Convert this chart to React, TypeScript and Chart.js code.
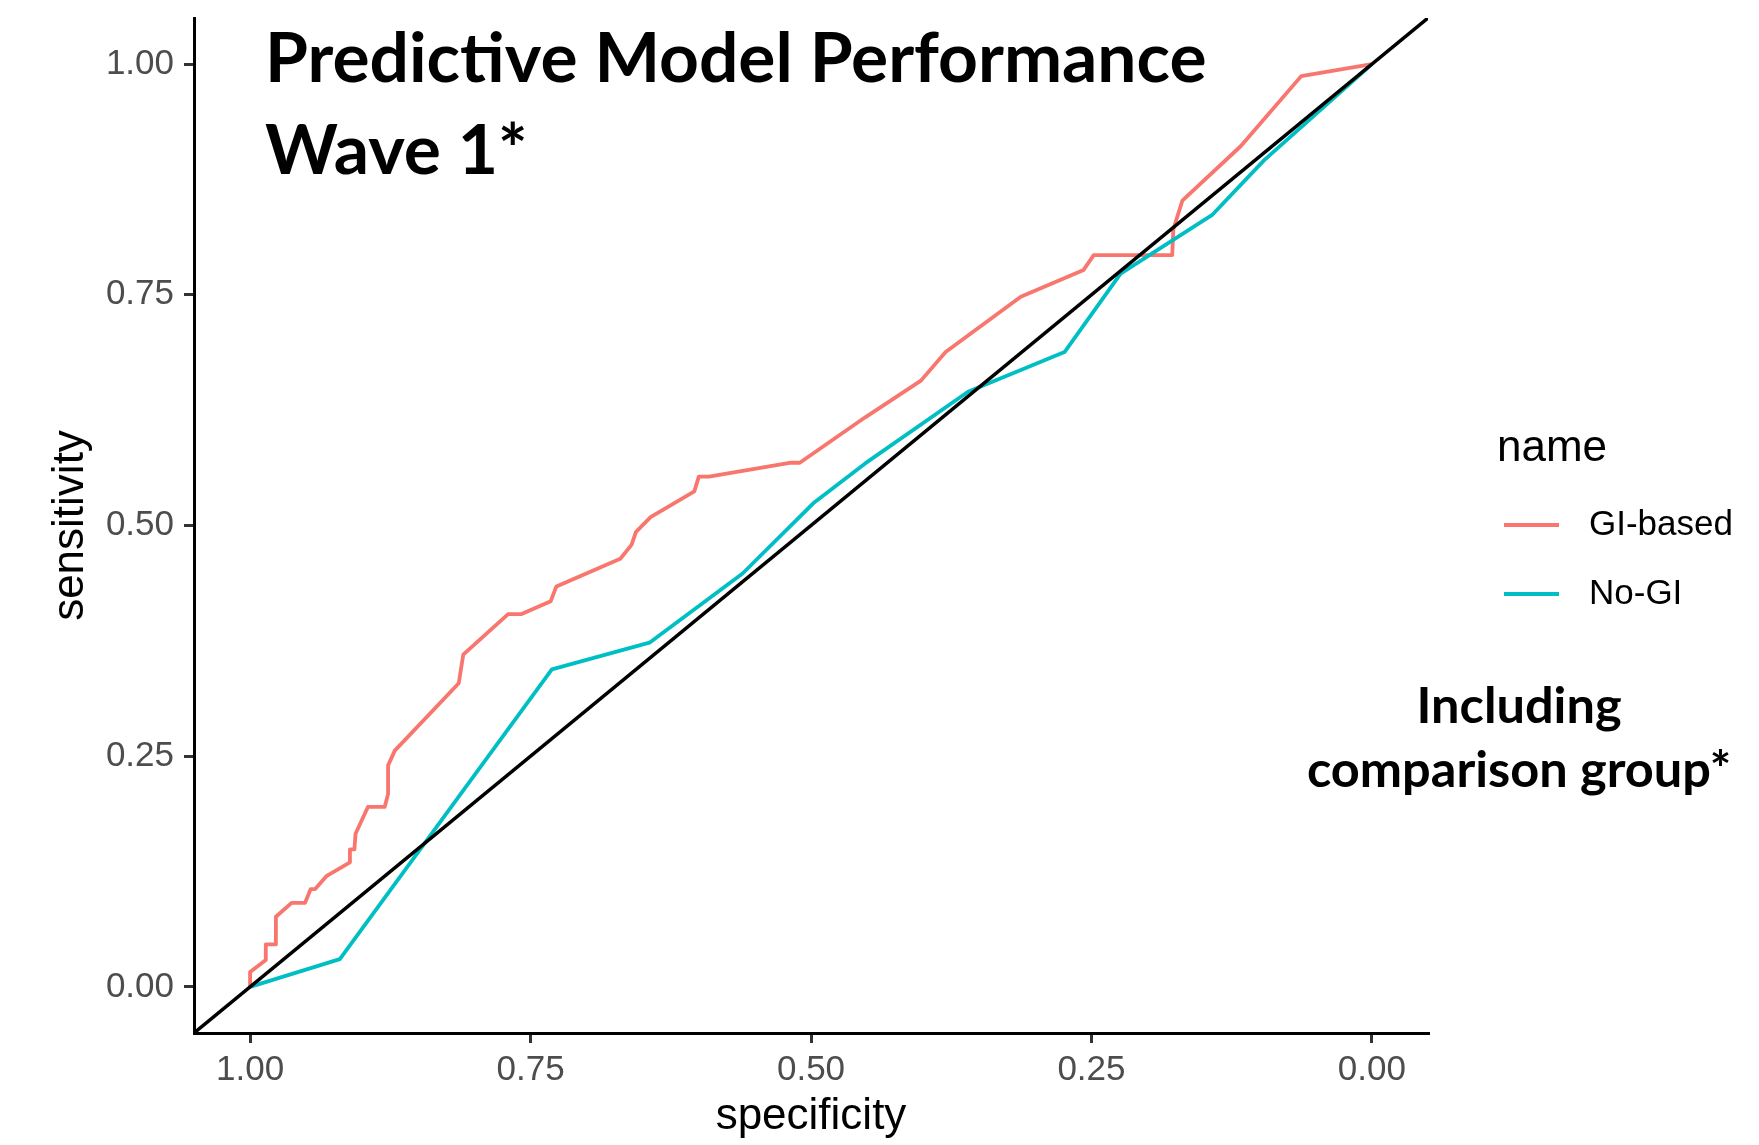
import React, { useEffect, useRef } from "react";
import { Chart, registerables } from "chart.js";

Chart.register(...registerables);

// ---- data ----
const SERIES_NAMES = ["GI-based", "No-GI"];
const SERIES_COLORS = ["#F8766D", "#00BFC4"];

const GI_SPEC = [1.0, 1.0, 0.986, 0.986, 0.977, 0.977, 0.963, 0.951, 0.946, 0.942, 0.932, 0.911, 0.911, 0.907, 0.906, 0.895, 0.88, 0.877, 0.877, 0.871, 0.814, 0.81, 0.77, 0.758, 0.732, 0.727, 0.67, 0.66, 0.656, 0.643, 0.604, 0.6, 0.591, 0.519, 0.51, 0.452, 0.402, 0.38, 0.313, 0.257, 0.248, 0.178, 0.177, 0.169, 0.117, 0.063, 0.0];
const GI_SENS = [0.0, 0.016, 0.029, 0.046, 0.046, 0.076, 0.091, 0.091, 0.106, 0.106, 0.12, 0.135, 0.149, 0.149, 0.166, 0.195, 0.195, 0.209, 0.24, 0.256, 0.329, 0.36, 0.404, 0.404, 0.418, 0.434, 0.464, 0.479, 0.493, 0.509, 0.537, 0.553, 0.553, 0.568, 0.568, 0.617, 0.657, 0.688, 0.748, 0.777, 0.793, 0.793, 0.821, 0.852, 0.911, 0.987, 1.0];

const NOGI_SPEC = [1.0, 0.92, 0.731, 0.644, 0.561, 0.498, 0.452, 0.36, 0.274, 0.224, 0.142, 0.096, 0.0];
const NOGI_SENS = [0.0, 0.03, 0.344, 0.373, 0.448, 0.524, 0.567, 0.645, 0.688, 0.773, 0.837, 0.896, 1.0];

const DIAG_SPEC = [1.05, -0.05];
const DIAG_SENS = [-0.05, 1.05];

const AXIS_MIN = -0.05;
const AXIS_MAX = 1.05;
const TICK_VALUES = [0, 0.25, 0.5, 0.75, 1];
const TICK_LABELS = ["0.00", "0.25", "0.50", "0.75", "1.00"];

const X_TITLE = "specificity";
const Y_TITLE = "sensitivity";
const LEGEND_TITLE = "name";
const TITLE_LINES = ["Predictive Model Performance", "Wave 1*"];
const NOTE_LINES = ["Including", "comparison group*"];

const toPoints = (xs: number[], ys: number[]) => xs.map((x, i) => ({ x, y: ys[i] }));

const overlayPlugin = {
  id: "overlay",
  afterDraw(chart: any) {
    const ctx = chart.ctx as CanvasRenderingContext2D;
    ctx.save();
    ctx.fillStyle = "#000";
    // big title
    ctx.font = "bold 69.5px Lato";
    ctx.textAlign = "left";
    ctx.textBaseline = "alphabetic";
    ctx.fillText(TITLE_LINES[0], 265, 82);
    ctx.fillText(TITLE_LINES[1], 265, 174);
    // side note
    ctx.font = "bold 50.5px Lato";
    ctx.textAlign = "center";
    ctx.fillText(NOTE_LINES[0], 1519, 723);
    ctx.fillText(NOTE_LINES[1], 1519, 787);
    // legend
    ctx.textAlign = "left";
    ctx.font = '44px "Liberation Sans"';
    ctx.fillText(LEGEND_TITLE, 1497, 461);
    const rows = [525, 594];
    SERIES_NAMES.forEach((name, i) => {
      ctx.strokeStyle = SERIES_COLORS[i];
      ctx.lineWidth = 4;
      ctx.beginPath();
      ctx.moveTo(1504, rows[i]);
      ctx.lineTo(1559, rows[i]);
      ctx.stroke();
      ctx.font = '35px "Liberation Sans"';
      ctx.textBaseline = "middle";
      ctx.fillStyle = "#000";
      ctx.fillText(name, 1589, rows[i]);
    });
    ctx.restore();
  },
};

export default function App() {
  const ref = useRef<HTMLCanvasElement>(null);
  useEffect(() => {
    const tickCfg = (scale: any) => {
      scale.ticks = TICK_VALUES.map((v) => ({ value: v }));
    };
    const fmt = (v: any) => {
      const i = TICK_VALUES.indexOf(Number(v));
      return i >= 0 ? TICK_LABELS[i] : "";
    };
    const chart = new Chart(ref.current as HTMLCanvasElement, {
      type: "line",
      data: {
        datasets: [
          {
            label: "diagonal",
            data: toPoints(DIAG_SPEC, DIAG_SENS),
            borderColor: "#000000",
            borderWidth: 3.5,
            pointRadius: 0,
            order: 0,
          },
          {
            label: SERIES_NAMES[1],
            data: toPoints(NOGI_SPEC, NOGI_SENS),
            borderColor: SERIES_COLORS[1],
            borderWidth: 3.8,
            pointRadius: 0,
            order: 1,
          },
          {
            label: SERIES_NAMES[0],
            data: toPoints(GI_SPEC, GI_SENS),
            borderColor: SERIES_COLORS[0],
            borderWidth: 3.8,
            pointRadius: 0,
            order: 2,
          },
        ],
      },
      options: {
        animation: false,
        responsive: false,
        devicePixelRatio: 1,
        layout: { padding: { top: 18, right: 331, left: 0, bottom: 0 } },
        plugins: { legend: { display: false }, tooltip: { enabled: false } },
        elements: { line: { tension: 0, borderJoinStyle: "round", borderCapStyle: "butt" } },
        scales: {
          x: {
            type: "linear",
            reverse: true,
            min: AXIS_MIN,
            max: AXIS_MAX,
            afterBuildTicks: tickCfg,
            afterFit: (s: any) => {
              s.height = 112;
              s.paddingLeft = 0;
              s.paddingRight = 0;
            },
            ticks: {
              callback: fmt,
              color: "#4d4d4d",
              font: { family: "Liberation Sans", size: 35 },
              padding: 6,
              maxRotation: 0,
              autoSkip: false,
            },
            grid: { drawOnChartArea: false, drawTicks: true, tickLength: 10, color: "#333333", lineWidth: 3 },
            border: { display: true, color: "#000000", width: 3 },
            title: {
              display: true,
              text: X_TITLE,
              color: "#000",
              font: { family: "Liberation Sans", size: 44 },
              padding: { top: 0, bottom: 2 },
            },
          },
          y: {
            type: "linear",
            min: AXIS_MIN,
            max: AXIS_MAX,
            afterBuildTicks: tickCfg,
            afterFit: (s: any) => {
              s.width = 194;
              s.paddingTop = 0;
              s.paddingBottom = 0;
            },
            ticks: {
              callback: fmt,
              color: "#4d4d4d",
              font: { family: "Liberation Sans", size: 35 },
              padding: 10,
              autoSkip: false,
            },
            grid: { drawOnChartArea: false, drawTicks: true, tickLength: 10, color: "#333333", lineWidth: 3 },
            border: { display: true, color: "#000000", width: 3 },
            title: {
              display: true,
              text: Y_TITLE,
              color: "#000",
              font: { family: "Liberation Sans", size: 44 },
              padding: { top: 44, bottom: 0 },
            },
          },
        },
      },
      plugins: [overlayPlugin],
    } as any);
    return () => chart.destroy();
  }, []);
  return (
    <div style={{ position: "fixed", left: 0, top: 0, width: 1759, height: 1145, background: "#fff" }}>
      <canvas ref={ref} width={1759} height={1145} style={{ display: "block", width: 1759, height: 1145 }} />
    </div>
  );
}
